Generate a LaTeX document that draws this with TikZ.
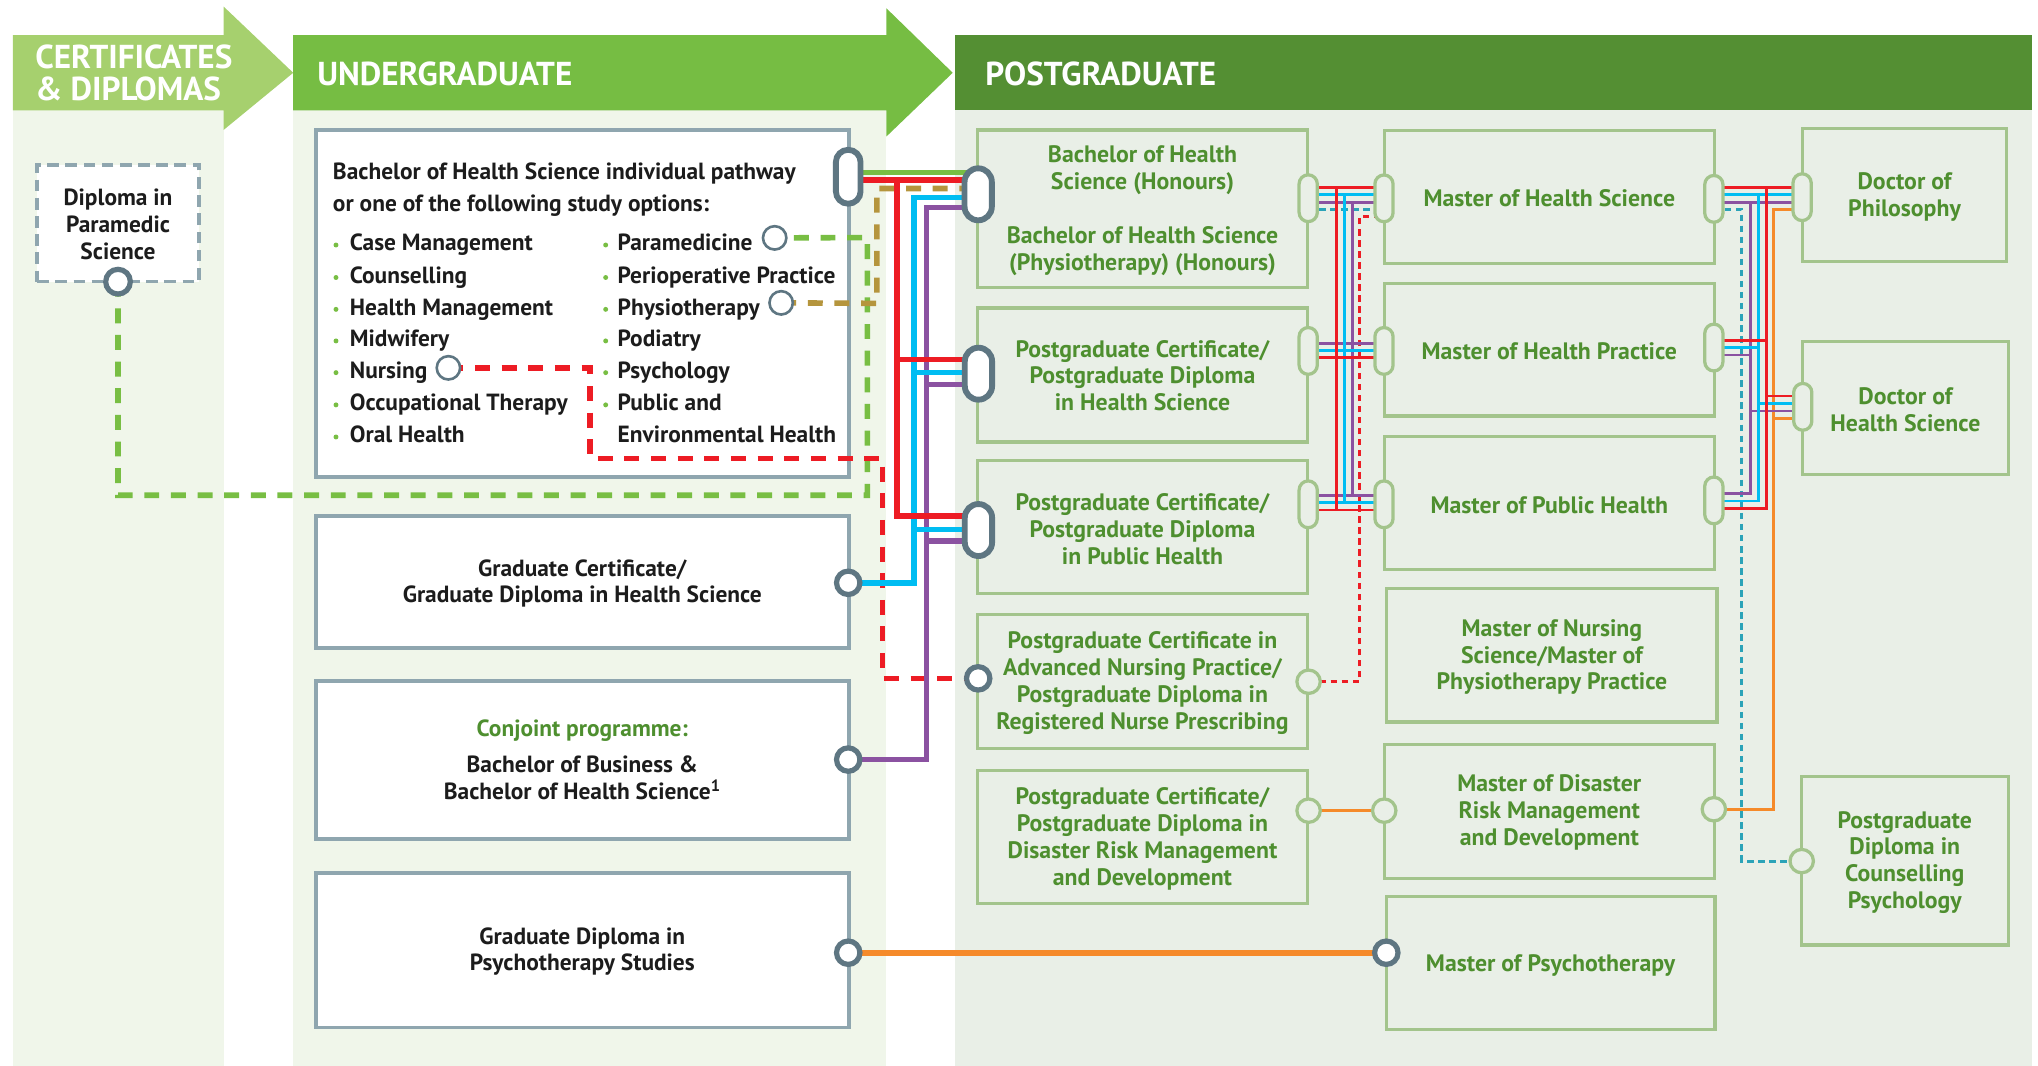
\documentclass[tikz,border=0pt]{standalone}
\usepackage{fontspec}
\setmainfont{PT Sans}
\usetikzlibrary{calc}
\pgfdeclarelayer{bgl}
\pgfdeclarelayer{boxes}
\pgfdeclarelayer{lines}
\pgfsetlayers{bgl,boxes,lines,main}
\definecolor{hdrA}{HTML}{A6D06E}
\definecolor{hdrB}{HTML}{76BD43}
\definecolor{hdrC}{HTML}{548F33}
\definecolor{bgA}{HTML}{F0F6EA}
\definecolor{pgbg}{HTML}{E9EFE7}
\definecolor{ugstroke}{HTML}{8FA6AF}
\definecolor{darkc}{HTML}{5E7682}
\definecolor{pgstroke}{HTML}{A3C48C}
\definecolor{pgtext}{HTML}{4E8F2F}
\definecolor{txt}{HTML}{1C1C1C}
\definecolor{lred}{HTML}{ED1C24}
\definecolor{lcyan}{HTML}{00BDF2}
\definecolor{lpurple}{HTML}{8B52A1}
\definecolor{lgold}{HTML}{B5953D}
\definecolor{lgreen}{HTML}{78BE43}
\definecolor{lorange}{HTML}{F58A2A}
\definecolor{lteal}{HTML}{2BA3B8}
\begin{document}
\begin{tikzpicture}[x=1pt,y=-1pt,
  ugbox/.style={draw=ugstroke,line width=3pt,fill=white,inner sep=0pt},
  pgbox/.style={draw=pgstroke,line width=2.5pt,fill=pgbg,inner sep=0pt},
  dpill/.style={draw=darkc,line width=4.5pt,fill=white,rounded corners=10.5pt,minimum width=21pt,minimum height=40pt,inner sep=0pt},
  upill/.style={draw=darkc,line width=4.5pt,fill=white,rounded corners=9.5pt,minimum width=19pt,minimum height=41.5pt,inner sep=0pt},
  lpill/.style={draw=pgstroke,line width=2.5pt,fill=pgbg,rounded corners=7pt,minimum width=14pt,minimum height=36pt,inner sep=0pt},
  dcirc/.style={circle,draw=darkc,line width=4pt,fill=white,minimum size=18pt,inner sep=0pt},
  lcirc/.style={circle,draw=pgstroke,line width=2.5pt,fill=pgbg,minimum size=18pt,inner sep=0pt},
  scirc/.style={circle,draw=darkc,line width=2pt,fill=white,minimum size=18pt,inner sep=0pt},
  mainln/.style={line width=4.3pt},
  thinln/.style={line width=2.2pt},
  bigdash/.style={dash pattern=on 11.5pt off 9pt},
  smalldash/.style={dash pattern=on 5pt off 3.5pt},
  hdr/.style={font=\fontsize{25.5}{26}\selectfont\bfseries,text=white,inner sep=0pt},
  ugt/.style={font=\fontsize{18}{20.5}\selectfont\bfseries,text=txt,align=center,inner sep=0pt},
  ugl/.style={font=\fontsize{18}{20.5}\selectfont\bfseries,text=txt,inner sep=0pt},
  pgt/.style={font=\fontsize{18.3}{20.6}\selectfont\bfseries,text=pgtext,align=center,inner sep=0pt}
]
\useasboundingbox (0,0) rectangle (1568,820);
% ---------------- backgrounds and headers
\begin{pgfonlayer}{bgl}
\fill[bgA] (10,85) rectangle (172,820);
\fill[bgA] (225.6,85) rectangle (682,820);
\fill[pgbg] (735,85) rectangle (1563,820);
\fill[hdrA] (10,27) -- (172,27) -- (172,5) -- (225.6,56) -- (172,100) -- (172,85) -- (10,85) -- cycle;
\fill[hdrB] (225.6,27) -- (682,27) -- (682,6.4) -- (733,56) -- (682,105) -- (682,85) -- (225.6,85) -- cycle;
\fill[hdrC] (735,27) rectangle (1563,85);
\end{pgfonlayer}
\node[hdr,anchor=base west] (tcert1) at (27,52.8) {CERTIFICATES};
\node[hdr,anchor=base west] (tcert2) at (27,77.2) {\& DIPLOMAS};
\node[hdr,anchor=base west] (tug) at (244,65.6) {UNDERGRADUATE};
\node[hdr,anchor=base west] (tpg) at (758,66) {POSTGRADUATE};
% ---------------- boxes
\begin{pgfonlayer}{boxes}
\node[draw=ugstroke,line width=2.7pt,dash pattern=on 9pt off 5pt,fill=white,minimum width=124.5pt,minimum height=89.7pt,inner sep=0pt] (dip) at (90.8,171.8) {};
\node[ugbox,minimum width=410pt,minimum height=266.8pt] (bach) at (448,233.4) {};
\node[ugbox,minimum width=410pt,minimum height=101.6pt] (gc) at (448,447.8) {};
\node[ugbox,minimum width=410pt,minimum height=121.6pt] (cj) at (448,584.5) {};
\node[ugbox,minimum width=410pt,minimum height=119pt] (gdp) at (448,731) {};
\node[pgbox,minimum width=254pt,minimum height=121pt] (bh) at (879,160.5) {};
\node[pgbox,minimum width=254pt,minimum height=103pt] (phs) at (879,288.5) {};
\node[pgbox,minimum width=254pt,minimum height=102pt] (pph) at (879,405.5) {};
\node[pgbox,minimum width=254pt,minimum height=103pt] (pan) at (879,524.5) {};
\node[pgbox,minimum width=254pt,minimum height=102.5pt] (pdr) at (879,644) {};
\node[pgbox,minimum width=253.6pt,minimum height=102pt] (mhs) at (1192,151.5) {};
\node[pgbox,minimum width=253.6pt,minimum height=102pt] (mhp) at (1192,269) {};
\node[pgbox,minimum width=253.6pt,minimum height=102pt] (mph) at (1192,387) {};
\node[pgbox,minimum width=254pt,minimum height=103pt] (mns) at (1194,504) {};
\node[pgbox,minimum width=253.6pt,minimum height=102.8pt] (mdr) at (1192,624.4) {};
\node[pgbox,minimum width=253pt,minimum height=102pt] (mps) at (1193,741) {};
\node[pgbox,minimum width=156.7pt,minimum height=102.6pt] (phd) at (1465.3,150) {};
\node[pgbox,minimum width=158pt,minimum height=102.5pt] (dhs) at (1466,314) {};
\node[pgbox,minimum width=159pt,minimum height=129.4pt] (pgc) at (1465.5,662.3) {};
\end{pgfonlayer}
% ---------------- texts
\node[ugt] (tdip) at (90.8,172.5) {Diploma in\\Paramedic\\Science};
\node[ugl,anchor=base west] (tb1) at (256,138) {Bachelor of Health Science individual pathway};
\node[ugl,anchor=base west] (tb2) at (256,163) {or one of the following study options:};
\foreach \t/\y [count=\i] in {Case Management/187,Counselling/212,Health Management/236.5,Midwifery/260.8,Nursing/285.2,Occupational Therapy/310,Oral Health/334.7}{
  \node[ugl,anchor=base west] (la\i) at (269,\y+6) {\t};
  \fill[lgreen] (258.5,\y+1.5) circle (1.9);
}
\foreach \t/\y [count=\i] in {Paramedicine/187,Perioperative Practice/212,Physiotherapy/236.5,Podiatry/260.8,Psychology/285.2,Public and/310}{
  \node[ugl,anchor=base west] (lb\i) at (475,\y+6) {\t};
  \fill[lgreen] (466,\y+1.5) circle (1.9);
}
\node[ugl,anchor=base west] (lb7) at (475,340.7) {Environmental Health};
\node[ugt] (tgc) at (448,449) {Graduate Certificate/\\Graduate Diploma in Health Science};
\node[ugt,text=pgtext] (tcj1) at (448,562) {Conjoint programme:};
\node[ugt] (tcj2) at (448,598.5) {Bachelor of Business \&\\Bachelor of Health Science\textsuperscript{1}};
\node[ugt] (tgdp) at (448,732) {Graduate Diploma in\\Psychotherapy Studies};
\node[pgt] (tbh1) at (879,131) {Bachelor of Health\\Science (Honours)};
\node[pgt] (tbh2) at (879,193) {Bachelor of Health Science\\(Physiotherapy) (Honours)};
\node[pgt] (tphs) at (879,289) {Postgraduate Certificate/\\Postgraduate Diploma\\in Health Science};
\node[pgt] (tpph) at (879,407) {Postgraduate Certificate/\\Postgraduate Diploma\\in Public Health};
\node[pgt] (tpan) at (879,525.5) {Postgraduate Certificate in\\Advanced Nursing Practice/\\Postgraduate Diploma in\\Registered Nurse Prescribing};
\node[pgt] (tpdr) at (879,645.5) {Postgraduate Certificate/\\Postgraduate Diploma in\\Disaster Risk Management\\and Development};
\node[pgt] (tmhs) at (1192,152.5) {Master of Health Science};
\node[pgt] (tmhp) at (1192,270.5) {Master of Health Practice};
\node[pgt] (tmph) at (1192,388.5) {Master of Public Health};
\node[pgt] (tmns) at (1194,505.5) {Master of Nursing\\Science/Master of\\Physiotherapy Practice};
\node[pgt] (tmdr) at (1192,625) {Master of Disaster\\Risk Management\\and Development};
\node[pgt] (tmps) at (1193,742.5) {Master of Psychotherapy};
\node[pgt] (tphd) at (1465.3,151.5) {Doctor of\\Philosophy};
\node[pgt] (tdhs) at (1466,315.5) {Doctor of\\Health Science};
\node[pgt] (tpgc) at (1465.5,663.5) {Postgraduate\\Diploma in\\Counselling\\Psychology};
% ---------------- connector end points
\node[dcirc,minimum size=19pt] (dipC) at (90.8,216.7) {};
\node[upill] (ugP) at (652.6,136) {};
\node[scirc] (sPara) at (596,183) {};
\node[scirc] (sPhys) at (601,233) {};
\node[scirc] (sNurs) at (345,283) {};
\node[dcirc] (gcC) at (652.6,448.4) {};
\node[dcirc] (cjC) at (652.6,584.4) {};
\node[dcirc] (gdpC) at (652.6,733) {};
\node[dpill] (bhL) at (752.6,149.5) {};
\node[dpill] (phsL) at (752.8,287.5) {};
\node[dpill] (pphL) at (752.8,407.8) {};
\node[dcirc] (panL) at (752.6,521.9) {};
\node[lpill] (bhR) at (1006.5,152.5) {};
\node[lpill] (phsR) at (1006.5,270) {};
\node[lpill] (pphR) at (1006.5,388) {};
\node[lcirc] (panR) at (1006.8,524.5) {};
\node[lcirc] (pdrR) at (1006.8,623.7) {};
\node[lpill] (mhsL) at (1064.8,152.6) {};
\node[lpill] (mhpL) at (1064.8,270) {};
\node[lpill] (mphL) at (1064.8,388) {};
\node[lcirc] (mdrL) at (1065,623.7) {};
\node[dcirc] (mpsL) at (1066.6,733) {};
\node[lpill] (mhsR) at (1318.6,153) {};
\node[lpill] (mhpR) at (1318.6,267.4) {};
\node[lpill] (mphR) at (1318.6,385) {};
\node[lcirc] (mdrR) at (1318.6,622.6) {};
\node[lpill] (phdL) at (1386.5,151.7) {};
\node[lpill] (dhsL) at (1387,313) {};
\node[lcirc] (pgcL) at (1386.2,662.5) {};
% ---------------- connectors
\begin{pgfonlayer}{lines}
% undergraduate trunks
\draw[mainln,lgreen,bigdash] (dipC.center) -- (90.8,381) -- (667.3,381) -- (667.3,182.8) -- (sPara.center);
\draw[mainln,lgold,bigdash] (sPhys.center) -- (674.7,233.4) -- (674.7,145) -- (bhL.center |- 0,145);
\draw[mainln,lred,bigdash] (sNurs.center) -- (454,283) -- (454,352.6) -- (679,352.6) -- (679,521.9) -- (panL.center);
\draw[mainln,lpurple] (cjC.center) -| (712.8,159.5) -- (bhL.center |- 0,159.5);
\draw[mainln,lpurple] (712.8,295.7) -- (phsL.center |- 0,295.7);
\draw[mainln,lpurple] (712.8,416.3) -- (pphL.center |- 0,416.3);
\draw[mainln,lcyan] (gcC.center) -| (703,151.8) -- (bhL.center |- 0,151.8);
\draw[mainln,lcyan] (703,286.7) -- (phsL.center |- 0,286.7);
\draw[mainln,lcyan] (703,407.3) -- (pphL.center |- 0,407.3);
\draw[mainln,lgreen] (ugP.center |- 0,132.6) -- (bhL.center |- 0,132.6);
\draw[mainln,lred] (ugP.center |- 0,138.5) -- (bhL.center |- 0,138.5);
\draw[mainln,lred] (690,138.5) -- (690,396.8) -- (pphL.center |- 0,396.8);
\draw[mainln,lred] (690,276.5) -- (phsL.center |- 0,276.5);
\draw[mainln,lorange] (gdpC.center) -- (mpsL.center);
% column 1 to column 2
\draw[thinln,lteal,smalldash] (bhR.center |- 0,161.3) -- (mhsL.center |- 0,161.3);
\draw[thinln,lred,smalldash] (panR.center) -- (1046,524.5) -- (1046,166.7) -- (mhsL.center |- 0,166.7);
\draw[thinln,lpurple] (1040.3,155.7) -- (1040.3,380.9);
\draw[thinln,lpurple] (bhR.center |- 0,155.7) -- (mhsL.center |- 0,155.7);
\draw[thinln,lpurple] (phsR.center |- 0,264) -- (mhpL.center |- 0,264);
\draw[thinln,lpurple] (pphR.center |- 0,380.9) -- (mphL.center |- 0,380.9);
\draw[thinln,lcyan] (1034.4,149.5) -- (1034.4,386.5);
\draw[thinln,lcyan] (bhR.center |- 0,149.5) -- (mhsL.center |- 0,149.5);
\draw[thinln,lcyan] (phsR.center |- 0,269.8) -- (mhpL.center |- 0,269.8);
\draw[thinln,lcyan] (pphR.center |- 0,386.5) -- (mphL.center |- 0,386.5);
\draw[thinln,lred] (1028.5,144.4) -- (1028.5,392.4);
\draw[thinln,lred] (bhR.center |- 0,144.4) -- (mhsL.center |- 0,144.4);
\draw[thinln,lred] (phsR.center |- 0,275.2) -- (mhpL.center |- 0,275.2);
\draw[thinln,lred] (pphR.center |- 0,392.4) -- (mphL.center |- 0,392.4);
\draw[thinln,lorange] (pdrR.center) -- (mdrL.center);
% column 2 to column 3
\draw[thinln,lteal,smalldash] (mhsR.center |- 0,161) -- (1340,161) -- (1340,662.5) -- (pgcL.center);
\draw[thinln,lorange] (phdL.center |- 0,160.9) -- (1364.6,160.9) -- (1364.6,622.6) -- (mdrR.center);
\draw[thinln,lorange] (1364.6,321.9) -- (dhsL.center |- 0,321.9);
\draw[thinln,lpurple] (mhsR.center |- 0,155.7) -- (phdL.center |- 0,155.7);
\draw[thinln,lpurple] (mhpR.center |- 0,273.1) -- (1346.5,273.1);
\draw[thinln,lpurple] (mphR.center |- 0,380) -- (1346.5,380) -- (1346.5,155.7);
\draw[thinln,lpurple] (1346.5,316.2) -- (dhsL.center |- 0,316.2);
\draw[thinln,lcyan] (mhsR.center |- 0,149.5) -- (phdL.center |- 0,149.5);
\draw[thinln,lcyan] (mhpR.center |- 0,267.2) -- (1353,267.2);
\draw[thinln,lcyan] (mphR.center |- 0,385.5) -- (1353,385.5) -- (1353,149.5);
\draw[thinln,lcyan] (1353,310.3) -- (dhsL.center |- 0,310.3);
\draw[thinln,lred] (mhsR.center |- 0,144.4) -- (phdL.center |- 0,144.4);
\draw[thinln,lred] (mhpR.center |- 0,262) -- (1358.8,262);
\draw[thinln,lred] (mphR.center |- 0,391.1) -- (1358.8,391.1) -- (1358.8,144.4);
\draw[thinln,lred] (1358.8,304.7) -- (dhsL.center |- 0,304.7);
\end{pgfonlayer}
\end{tikzpicture}
\end{document}
